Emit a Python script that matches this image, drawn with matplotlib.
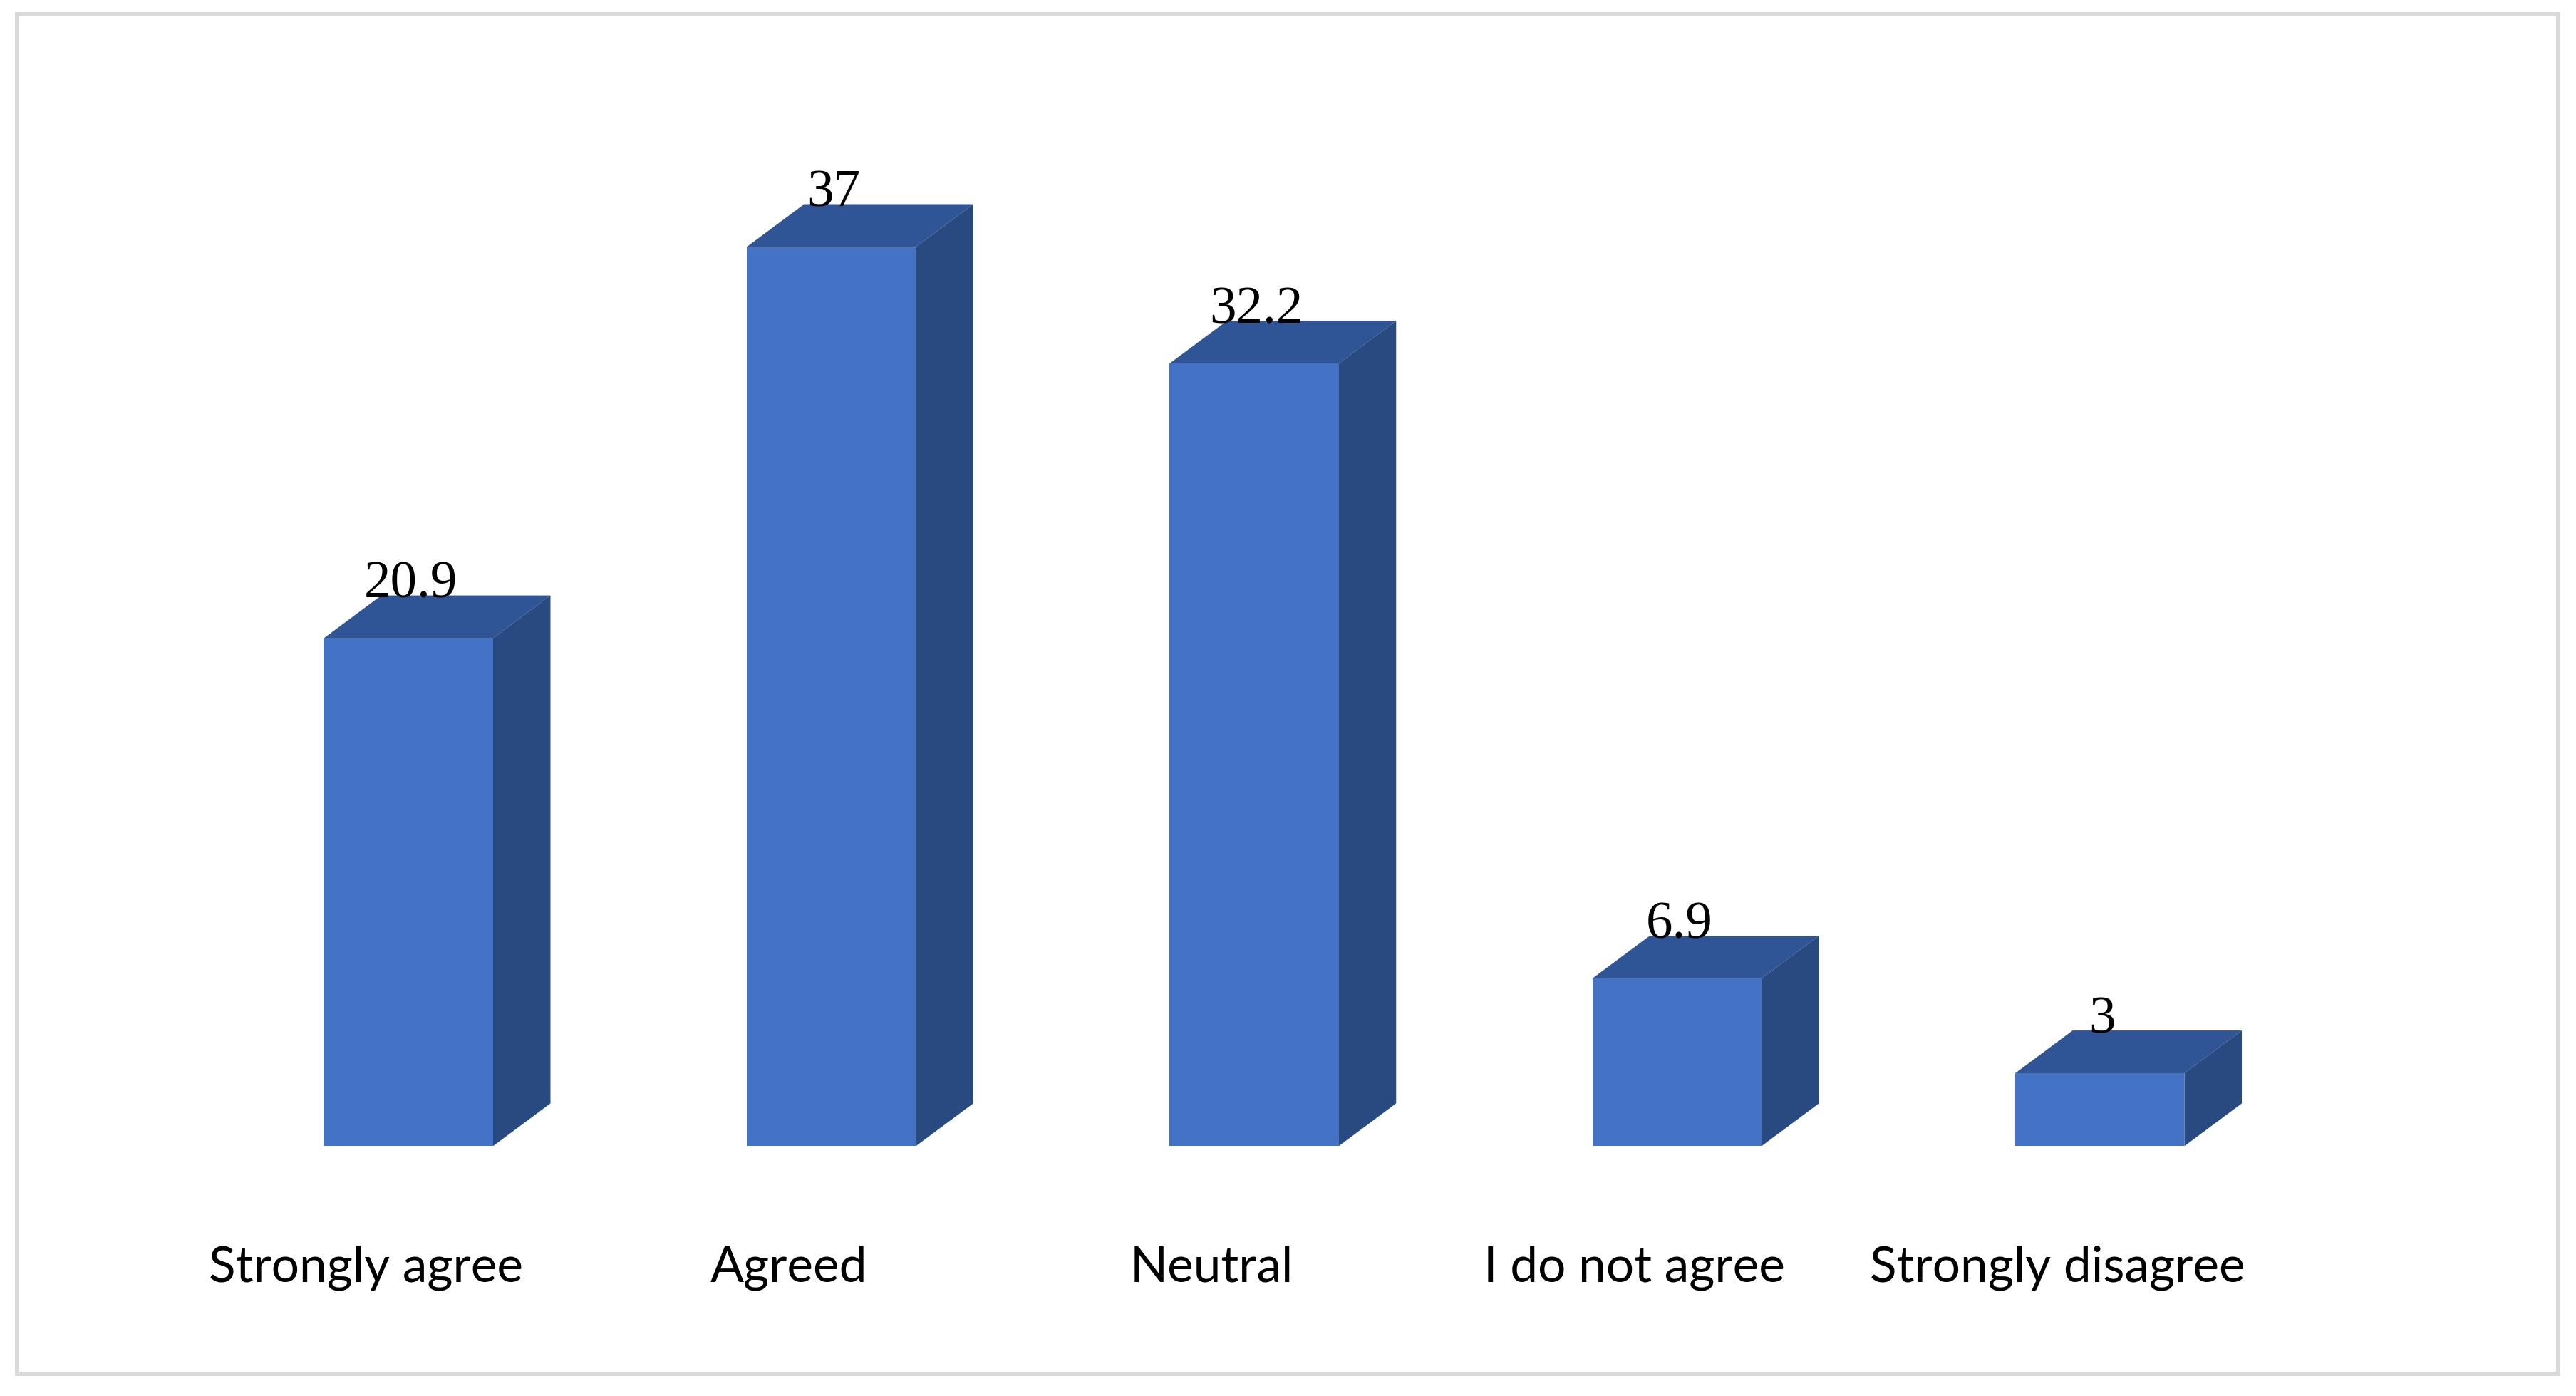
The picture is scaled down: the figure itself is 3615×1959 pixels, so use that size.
import matplotlib
matplotlib.use("Agg")
import matplotlib.pyplot as plt
from matplotlib.patches import Polygon, Rectangle

categories = ["Strongly agree", "Agreed", "Neutral", "I do not agree", "Strongly disagree"]
values = [20.9, 37, 32.2, 6.9, 3]
value_labels = ["20.9", "37", "32.2", "6.9", "3"]

FRONT = "#4472C4"
TOP = "#2F5597"
SIDE = "#294A80"

W, H = 3616, 1959
fig = plt.figure(figsize=(W / 100, H / 100), dpi=100)
fig.patch.set_facecolor("white")

# outer frame
fig.patches.append(Rectangle((0.0066, 0.0158), 0.9928 - 0.0066, 0.9898 - 0.0158,
                             transform=fig.transFigure, fill=False,
                             edgecolor="#D9D9D9", linewidth=4.3, zorder=0))

ax = fig.add_axes([0, 0, 1, 1])
ax.set_axis_off()
ax.set_xlim(-0.9658, 5.128)
ax.set_ylim(-10.28, 47.16)

bw = 0.4
dx = 0.136
dy = 1.76

x = list(range(len(values)))
bars = ax.bar(x, values, width=bw, color=FRONT, edgecolor="none", zorder=3)
for rect, v in zip(bars, values):
    x0 = rect.get_x()
    x1 = x0 + rect.get_width()
    top = Polygon([(x0, v), (x1, v), (x1 + dx, v + dy), (x0 + dx, v + dy)],
                  closed=True, facecolor=TOP, edgecolor="none", zorder=2)
    side = Polygon([(x1, 0), (x1 + dx, dy), (x1 + dx, v + dy), (x1, v)],
                   closed=True, facecolor=SIDE, edgecolor="none", zorder=2)
    ax.add_patch(top)
    ax.add_patch(side)

for xi, v, lab in zip(x, values, value_labels):
    ax.text(xi + 0.005, v + dy - 0.1, lab, ha="center", va="baseline",
            fontsize=54, family=["Liberation Serif", "DejaVu Serif"], color="black", zorder=5)

for xi, cat in zip(x, categories):
    ax.text(xi - 0.1, -5.0, cat, ha="center", va="center",
            fontsize=50, family=["Lato", "DejaVu Sans"], color="black")

fig.savefig("out.png", dpi=100, facecolor="white")
